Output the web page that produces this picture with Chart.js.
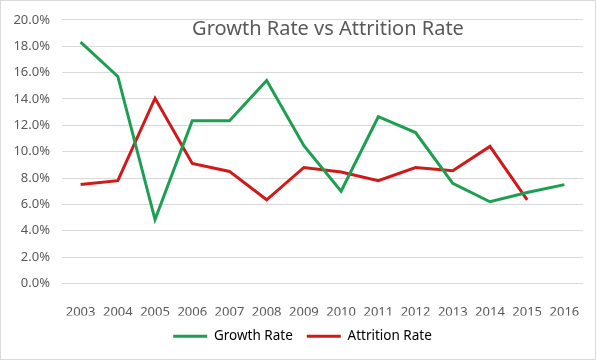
<!DOCTYPE html>
<html>
<head>
<meta charset="utf-8">
<script src="https://cdn.jsdelivr.net/npm/chart.js@4/dist/chart.umd.min.js"></script>
<style>
  body { margin: 0; background: #fff; }
  #wrap { width: 601px; height: 361px; }
</style>
</head>
<body>
<div id="wrap"><canvas id="myChart" width="601" height="361"></canvas></div>
<script>
const years = ['2003', '2004', '2005', '2006', '2007', '2008', '2009', '2010', '2011', '2012', '2013', '2014', '2015', '2016'];
const growthRate = [18.3, 15.7, 4.85, 12.35, 12.35, 15.4, 10.45, 7.0, 12.65, 11.45, 7.6, 6.2, 6.9, 7.5];
const attritionRate = [7.5, 7.8, 14.05, 9.1, 8.5, 6.35, 8.8, 8.45, 7.8, 8.8, 8.55, 10.4, 6.35, null];
const yTicks = { min: 0, max: 20, step: 2 };

const titleText = 'Growth Rate vs Attrition Rate';
const fontFamily = "'Noto Sans', 'Open Sans', sans-serif";
const textColor = '#595959';

// title sits on top of the plot like in excel, so draw it by hand
const overlayTitle = {
  id: 'overlayTitle',
  afterDraw(chart) {
    const ctx = chart.ctx;
    ctx.save();
    ctx.font = '20px ' + fontFamily;
    ctx.fillStyle = textColor;
    ctx.textAlign = 'center';
    ctx.textBaseline = 'alphabetic';
    ctx.fillText(titleText, 328, 35);
    ctx.restore();
  }
};

const frame = {
  id: 'frame',
  beforeDraw(chart) {
    const ctx = chart.ctx;
    ctx.save();
    ctx.fillStyle = '#fff';
    ctx.fillRect(0, 0, chart.width, chart.height);
    ctx.strokeStyle = '#d9d9d9';
    ctx.lineWidth = 1;
    ctx.strokeRect(0.5, 0.5, 595, 359);
    ctx.restore();
  },
  // excel centres the legend a bit right of the canvas centre
  afterLayout(chart) {
    if (chart.legend) {
      chart.legend.left += 11;
      chart.legend.right += 11;
    }
  }
};

const ctx = document.getElementById('myChart');
const data = {
  labels: years,
  datasets: [
    {
      label: 'Growth Rate',
      data: growthRate,
      borderColor: '#1e9e50',
      backgroundColor: '#1e9e50',
      borderWidth: 3,
      pointRadius: 0,
      tension: 0,
      fill: false
    },
    {
      label: 'Attrition Rate',
      data: attritionRate,
      borderColor: '#d01a1a',
      backgroundColor: '#d01a1a',
      borderWidth: 3,
      pointRadius: 0,
      tension: 0,
      fill: false
    }
  ]
};

new Chart(ctx, {
  type: 'line',
  data: data,
  plugins: [frame, overlayTitle],
  options: {
    responsive: false,
    animation: false,
    layout: { padding: { top: 19, right: 18, bottom: 8, left: 0 } },
    plugins: {
      title: { display: false },
      tooltip: { enabled: false },
      legend: {
        position: 'bottom',
        labels: {
          color: textColor,
          font: { family: fontFamily, size: 13.5 },
          boxWidth: 34,
          boxHeight: 3,
          padding: 14,
          generateLabels(chart) {
            return chart.data.datasets.map(function(ds, i) {
              return {
                text: ds.label,
                fillStyle: ds.borderColor,
                strokeStyle: ds.borderColor,
                lineWidth: 0,
                hidden: false,
                datasetIndex: i
              };
            });
          }
        }
      }
    },
    scales: {
      x: {
        offset: true,
        grid: { display: false },
        border: { display: false },
        ticks: {
          color: textColor,
          font: { family: fontFamily, size: 13 },
          padding: 13,
          maxRotation: 0
        },
        afterFit(scale) { scale.height = 32; }
      },
      y: {
        min: yTicks.min,
        max: yTicks.max,
        grid: { color: '#d9d9d9', lineWidth: 1, drawTicks: false },
        border: { display: false },
        ticks: {
          stepSize: yTicks.step,
          color: textColor,
          font: { family: fontFamily, size: 13 },
          padding: 12,
          callback: function(v) { return v.toFixed(1) + '%'; }
        },
        afterFit(scale) { scale.width = 62; }
      }
    }
  }
});
</script>
</body>
</html>
